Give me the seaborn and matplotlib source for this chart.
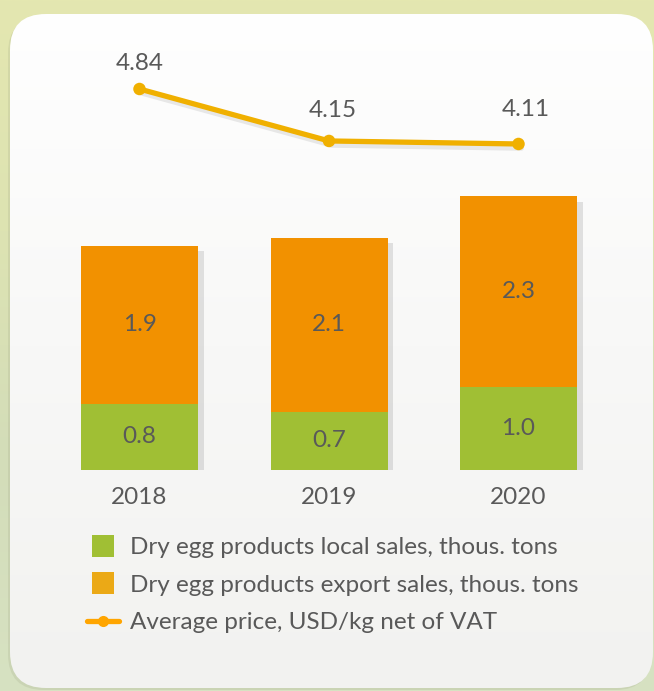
import numpy as np
import pandas as pd
import matplotlib
matplotlib.use("Agg")
import matplotlib.pyplot as plt
import matplotlib.patheffects as pe
from matplotlib.patches import FancyBboxPatch
from matplotlib.lines import Line2D
from matplotlib.colors import LinearSegmentedColormap
import seaborn as sns

# ---- data ----
years = ["2018", "2019", "2020"]
local_sales = [0.8, 0.7, 1.0]
export_sales = [1.9, 2.1, 2.3]
avg_price = [4.84, 4.15, 4.11]
legend_labels = [
    "Dry egg products local sales, thous. tons",
    "Dry egg products export sales, thous. tons",
    "Average price, USD/kg net of VAT",
]

GREEN = "#A0BF34"
ORANGE = "#F29100"
ORANGE_LEG = "#EBA916"
LINE = "#F0B000"
TEXT = "#595959"

sns.set_theme(style="white")
plt.rcParams["font.family"] = ["Lato", "DejaVu Sans"]

W, H = 654, 691
fig = plt.figure(figsize=(W / 100, H / 100), dpi=100)

# ---- background (pixel coordinates) ----
bg = fig.add_axes([0, 0, 1, 1])
bg.set_xlim(0, W)
bg.set_ylim(H, 0)
bg.axis("off")
bg_cmap = LinearSegmentedColormap.from_list("bg", ["#E4E7B0", "#DDE3B2", "#D3DDB9", "#D7E2C2"])
grad = np.linspace(0, 1, 256).reshape(-1, 1)
bg.imshow(grad, cmap=bg_cmap, extent=[0, W, H, 0], aspect="auto", zorder=0)

# panel shadow
shadow = FancyBboxPatch((8, 17), 643, 673, boxstyle="round,pad=0,rounding_size=36",
                        facecolor="#9aa080", edgecolor="none", alpha=0.2, zorder=1)
bg.add_patch(shadow)
panel = FancyBboxPatch((10, 14), 643, 674, boxstyle="round,pad=0,rounding_size=36",
                       facecolor="none", edgecolor="none", zorder=2)
bg.add_patch(panel)
panel_cmap = LinearSegmentedColormap.from_list("pn", ["#FFFFFF", "#F8F8F7", "#F2F2F0"])
im = bg.imshow(grad, cmap=panel_cmap, extent=[0, W, H, 0], aspect="auto", zorder=2)
im.set_clip_path(panel)

# ---- main axes ----
ax_left, ax_right, ax_top, ax_bot = 40, 620, 40, 470
ax = fig.add_axes([ax_left / W, 1 - ax_bot / H, (ax_right - ax_left) / W, (ax_bot - ax_top) / H])
ax.patch.set_alpha(0)

df = pd.DataFrame({"year": years, "local": local_sales, "export": export_sales, "price": avg_price})
df["total"] = df["local"] + df["export"]

bw = 117 / 189.5
sns.barplot(data=df, x="year", y="total", color=ORANGE, saturation=1, width=bw, ax=ax, zorder=2,
            edgecolor="none", linewidth=0)
for p in ax.patches:
    p.set_path_effects([pe.SimplePatchShadow(offset=(4, -4), shadow_rgbFace="#777777", alpha=0.2), pe.Normal()])
sns.barplot(data=df, x="year", y="local", color=GREEN, saturation=1, width=bw, ax=ax, zorder=3,
            edgecolor="none", linewidth=0)

px_per_x = 189.5
ax.set_xlim((ax_left - 139.5) / px_per_x, (ax_right - 139.5) / px_per_x)
ax.set_ylim(0, (ax_bot - ax_top) / 83.0)

fs = 17.5
for i, r in df.iterrows():
    ax.text(i, r["local"] / 2, f"{r['local']:.1f}", ha="center", va="center", fontsize=fs, color=TEXT, zorder=5)
    ax.text(i, r["local"] + r["export"] / 2, f"{r['export']:.1f}", ha="center", va="center",
            fontsize=fs, color=TEXT, zorder=5)

ax.set_xlabel("")
ax.set_ylabel("")
ax.set_yticks([])
ax.tick_params(axis="x", length=0, pad=12, labelsize=fs, labelcolor=TEXT)
for s in ax.spines.values():
    s.set_visible(False)

# ---- price line on twin axis ----
ax2 = ax.twinx()
ax2.patch.set_alpha(0)
ppu = 75.3
lo = 4.84 - (ax_bot - 89) / ppu
hi = 4.84 + (89 - ax_top) / ppu
sns.lineplot(data=df, x="year", y="price", color=LINE, linewidth=3.8, marker="o", markersize=9,
             markeredgewidth=0, ax=ax2, zorder=4,
             path_effects=[pe.SimpleLineShadow(offset=(2, -3), shadow_color="#888888", alpha=0.18), pe.Normal()])
for ln in ax2.lines:
    ln.set_solid_capstyle("round")
    ln.set_solid_joinstyle("round")
ax2.set_ylim(lo, hi)
ax2.set_yticks([])
ax2.set_ylabel("")
ax2.set_xlabel("")
for s in ax2.spines.values():
    s.set_visible(False)
offsets = [(0, 26), (4, 30), (7, 34)]
for i, v in enumerate(avg_price):
    ax2.annotate(f"{v:.2f}", (i, v), xytext=offsets[i], textcoords="offset pixels",
                 ha="center", va="center", fontsize=fs, color=TEXT)

# ---- legend ----
handles = [
    Line2D([], [], linestyle="none", marker="s", markersize=15.5, markerfacecolor=GREEN, markeredgewidth=0),
    Line2D([], [], linestyle="none", marker="s", markersize=15.5, markerfacecolor=ORANGE_LEG, markeredgewidth=0),
    Line2D([], [], color="#FFA500", linewidth=3.8, marker="o", markersize=8, markeredgewidth=0),
]
leg = fig.legend(handles, legend_labels, loc="upper left", bbox_to_anchor=(87 / W, 1 - 537 / H),
                 frameon=False, fontsize=fs, handlelength=1.3, handletextpad=0.45,
                 labelspacing=0.68, borderpad=0, borderaxespad=0, labelcolor=TEXT)

fig.savefig("out.png", dpi=100)
